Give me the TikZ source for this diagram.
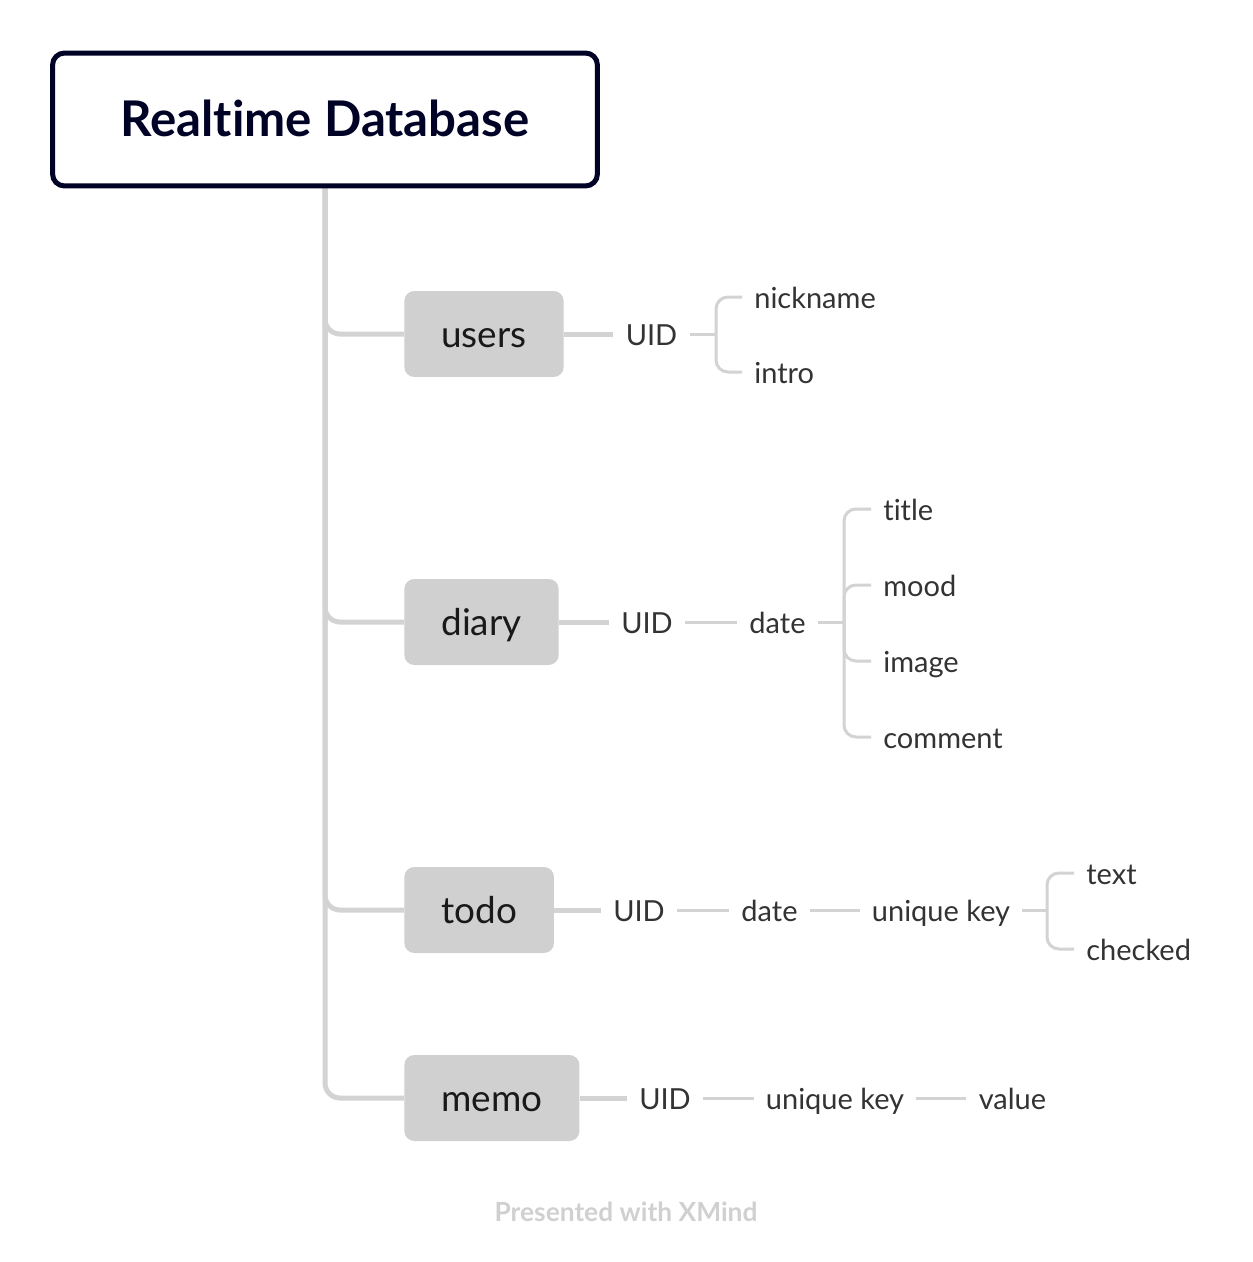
\documentclass[tikz,border=0pt]{standalone}
\usepackage{fontspec}
\setmainfont{Lato}[Ligatures={NoCommon}]
\usetikzlibrary{positioning,backgrounds}
\usepackage{xcolor}
\definecolor{RootNavy}{RGB}{0,2,38}
\definecolor{BranchGrey}{RGB}{211,211,211}
\definecolor{TopicGrey}{RGB}{208,208,208}
\definecolor{LeafText}{RGB}{51,51,51}
\definecolor{MarkGrey}{RGB}{208,208,208}
\tikzset{
  rootbox/.style={draw=RootNavy, line width=0.1cm, rounded corners=0.24cm, fill=white,
    minimum width=10.9cm, minimum height=2.66cm, text=RootNavy,
    text height=19.8pt, text depth=0pt, font=\fontsize{28}{34}\selectfont\bfseries},
  topic/.style={fill=TopicGrey, rounded corners=0.2cm, minimum height=1.72cm,
    inner xsep=0.74cm, anchor=west, text=black!90,
    text height=14.8pt, text depth=0pt, font=\fontsize{21}{25}\selectfont},
  leaf/.style={inner xsep=0.24cm, inner ysep=0pt, text=LeafText,
    text height=13pt, text depth=0pt, font=\fontsize{16.5}{20}\selectfont},
  trunk/.style={draw=BranchGrey, line width=0.1cm, rounded corners=0.3cm},
  branch/.style={draw=BranchGrey, line width=0.1cm},
  twig/.style={draw=BranchGrey, line width=0.06cm, rounded corners=0.24cm}
}

\begin{document}
\begin{tikzpicture}[x=0.02cm, y=-0.02cm]
  \useasboundingbox (0,0) rectangle (1252,1262);
  % central topic
  \node[rootbox] (root) at (325,119.5) {Realtime Database};
  % main topics
  \node[topic] (users) at (404,334) {users};
  \node[topic] (diary) at (404,622) {diary};
  \node[topic] (todo) at (404,910) {todo};
  \node[topic] (memo) at (404,1098) {memo};

  % users
  \node[leaf] (uidU) at (651.5,334) {UID};
  \coordinate (jU) at (716,334);
  \node[leaf, anchor=west] (nick) at (742,297) {nickname};
  \node[leaf, anchor=west] (intro) at (742,372) {intro};

  % diary
  \node[leaf] (uidD) at (647,622) {UID};
  \node[leaf] (dateD) at (777.5,622) {date};
  \coordinate (jD) at (844,622);
  \node[leaf, anchor=west] (title) at (871,509) {title};
  \node[leaf, anchor=west] (mood) at (871,585) {mood};
  \node[leaf, anchor=west] (image) at (871,661) {image};
  \node[leaf, anchor=west] (comment) at (871,737) {comment};

  % todo
  \node[leaf] (uidT) at (639,910) {UID};
  \node[leaf] (dateT) at (769.5,910) {date};
  \node[leaf] (keyT) at (941,910) {unique key};
  \coordinate (jT) at (1047,910);
  \node[leaf, anchor=west] (text) at (1074,873) {text};
  \node[leaf, anchor=west] (checked) at (1074,949) {checked};

  % memo
  \node[leaf] (uidM) at (665,1098) {UID};
  \node[leaf] (keyM) at (835,1098) {unique key};
  \node[leaf] (value) at (1012.5,1098) {value};

  \node[font=\fontsize{15}{18}\selectfont\bfseries, text=MarkGrey] (mark) at (626,1212) {Presented with XMind};

  \begin{scope}[on background layer]
    \draw[trunk] (root.south) |- (users.west);
    \draw[trunk] (root.south) |- (diary.west);
    \draw[trunk] (root.south) |- (todo.west);
    \draw[trunk] (root.south) |- (memo.west);

    \draw[branch] (users) -- (uidU);
    \draw[twig] (uidU) -- (jU);
    \draw[twig] (nick.west) -| (jU);
    \draw[twig] (intro.west) -| (jU);

    \draw[branch] (diary) -- (uidD);
    \draw[twig] (uidD) -- (dateD);
    \draw[twig] (dateD) -- (jD);
    \foreach \n in {title,mood,image,comment}
      \draw[twig] (\n.west) -| (jD);

    \draw[branch] (todo) -- (uidT);
    \draw[twig] (uidT) -- (dateT);
    \draw[twig] (dateT) -- (keyT);
    \draw[twig] (keyT) -- (jT);
    \draw[twig] (text.west) -| (jT);
    \draw[twig] (checked.west) -| (jT);

    \draw[branch] (memo) -- (uidM);
    \draw[twig] (uidM) -- (keyM);
    \draw[twig] (keyM) -- (value);
  \end{scope}
\end{tikzpicture}
\end{document}
